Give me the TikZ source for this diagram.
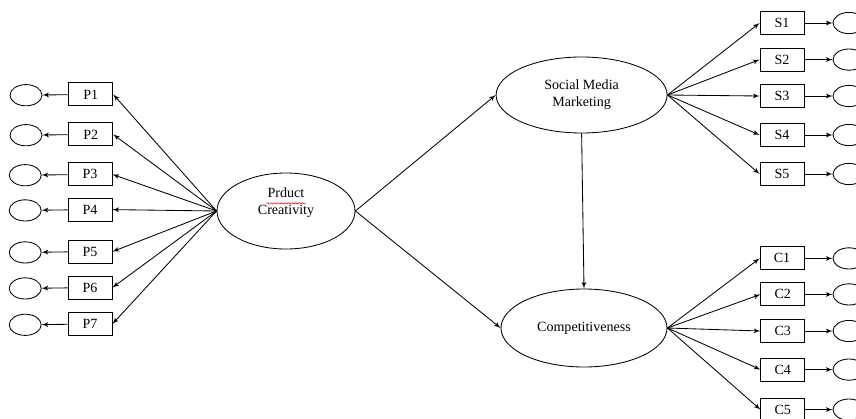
\documentclass[tikz,border=0pt]{standalone}
\usepackage{fontspec}
\setmainfont{Liberation Serif}
\usetikzlibrary{positioning,arrows,calc,shapes.geometric,decorations.pathmorphing}
\tikzset{
    item/.style = {
        draw,
        shape=rectangle,
        minimum height=0.575cm,
        minimum width=1.1cm,
        inner sep=0pt,
        line width=0.6pt
    },
    latent/.style = {
        draw,
        shape=ellipse,
        inner sep=0pt,
        align=center,
        line width=0.6pt
    },
    err/.style = {
        draw,
        shape=ellipse,
        minimum height=0.53cm,
        minimum width=0.8cm,
        line width=0.6pt
    },
    >=latex',
}

\begin{document}
\begin{tikzpicture}[font=\fontsize{10}{12}\selectfont, line width=0.6pt]
            \useasboundingbox (0,0) rectangle (21.4,-10.45);

            % latent variables
            \node[latent, minimum width=3.45cm, minimum height=1.9cm] (pc) at (7.15,-5.275) {Prduct\\Creativity\\[2pt]};
            \node[latent, minimum width=4.275cm, minimum height=1.9cm] (smm) at (14.54,-2.375) {Social Media\\Marketing};
            \node[latent, minimum width=4.15cm, minimum height=1.95cm] (comp) at (14.6,-8.2) {Competitiveness};

            % indicators of product creativity
            \node[item] (p1) at (2.27,-2.36) {P1};
            \node[item] (p2) at (2.27,-3.36) {P2};
            \node[item] (p3) at (2.25,-4.36) {P3};
            \node[item] (p4) at (2.25,-5.24) {P4};
            \node[item] (p5) at (2.25,-6.29) {P5};
            \node[item] (p6) at (2.25,-7.19) {P6};
            \node[item] (p7) at (2.25,-8.1) {P7};
            \node[err] (ep1) at (0.65,-2.38) {};
            \node[err] (ep2) at (0.65,-3.38) {};
            \node[err] (ep3) at (0.63,-4.38) {};
            \node[err] (ep4) at (0.63,-5.26) {};
            \node[err] (ep5) at (0.63,-6.31) {};
            \node[err] (ep6) at (0.63,-7.21) {};
            \node[err] (ep7) at (0.63,-8.12) {};

            % indicators of social media marketing
            \node[item] (s1) at (19.55,-0.575) {S1};
            \node[item] (s2) at (19.55,-1.49) {S2};
            \node[item] (s3) at (19.55,-2.4) {S3};
            \node[item] (s4) at (19.55,-3.375) {S4};
            \node[item] (s5) at (19.55,-4.35) {S5};
            \node[err] (es1) at (21.225,-0.575) {};
            \node[err] (es2) at (21.225,-1.49) {};
            \node[err] (es3) at (21.225,-2.4) {};
            \node[err] (es4) at (21.225,-3.375) {};
            \node[err] (es5) at (21.225,-4.35) {};

            % indicators of competitiveness
            \node[item] (c1) at (19.55,-6.46) {C1};
            \node[item] (c2) at (19.57,-7.36) {C2};
            \node[item] (c3) at (19.57,-8.275) {C3};
            \node[item] (c4) at (19.57,-9.24) {C4};
            \node[item] (c5) at (19.57,-10.24) {C5};
            \node[err] (ec1) at (21.225,-6.46) {};
            \node[err] (ec2) at (21.225,-7.36) {};
            \node[err] (ec3) at (21.225,-8.275) {};
            \node[err] (ec4) at (21.225,-9.24) {};
            \node[err] (ec5) at (21.225,-10.24) {};

            % structural paths
            \path[draw, ->] (pc.east) -- (smm.west);
            \path[draw, ->] (pc.east) -- (comp.west);
            \path[draw, ->] (smm.south) -- (comp.north);

            \path[draw, ->] (pc.west) -- (p1.east);
            \path[draw, ->] (pc.west) -- (p2.east);
            \path[draw, ->] (pc.west) -- (p3.east);
            \path[draw, ->] (pc.west) -- (p4.east);
            \path[draw, ->] (pc.west) -- (p5.east);
            \path[draw, ->] (pc.west) -- (p6.east);
            \path[draw, ->] (pc.west) -- (p7.east);
            \path[draw, ->] (p1) -- (ep1);
            \path[draw, ->] (p2) -- (ep2);
            \path[draw, ->] (p3) -- (ep3);
            \path[draw, ->] (p4) -- (ep4);
            \path[draw, ->] (p5) -- (ep5);
            \path[draw, ->] (p6) -- (ep6);
            \path[draw, ->] (p7) -- (ep7);

            \path[draw, ->] (smm.east) -- (s1.west);
            \path[draw, ->] (smm.east) -- (s2.west);
            \path[draw, ->] (smm.east) -- (s3.west);
            \path[draw, ->] (smm.east) -- (s4.west);
            \path[draw, ->] (smm.east) -- (s5.west);
            \path[draw, ->] (s1) -- (es1);
            \path[draw, ->] (s2) -- (es2);
            \path[draw, ->] (s3) -- (es3);
            \path[draw, ->] (s4) -- (es4);
            \path[draw, ->] (s5) -- (es5);

            \path[draw, ->] (comp.east) -- (c1.west);
            \path[draw, ->] (comp.east) -- (c2.west);
            \path[draw, ->] (comp.east) -- (c3.west);
            \path[draw, ->] (comp.east) -- (c4.west);
            \path[draw, ->] (comp.east) -- (c5.west);
            \path[draw, ->] (c1) -- (ec1);
            \path[draw, ->] (c2) -- (ec2);
            \path[draw, ->] (c3) -- (ec3);
            \path[draw, ->] (c4) -- (ec4);
            \path[draw, ->] (c5) -- (ec5);

            % spell check mark
            \path[draw, red, line width=0.4pt, decorate,
            decoration={snake, amplitude=0.5pt, segment length=2.5pt}]
            ($(pc)+(-0.49,0.19)$) -- ($(pc)+(0.49,0.19)$);
        \end{tikzpicture}
\end{document}
